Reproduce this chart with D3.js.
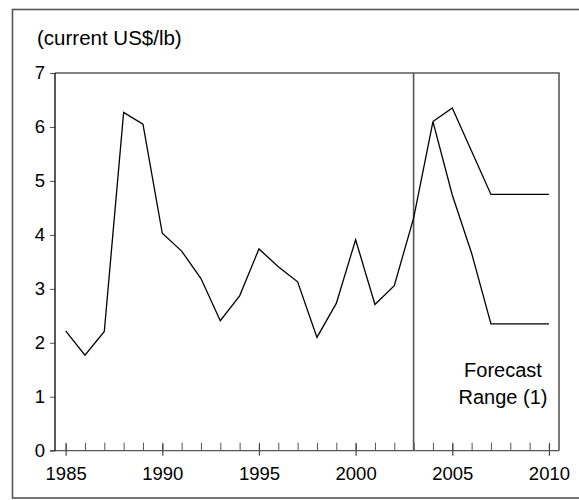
<!DOCTYPE html>
<html>
<head>
<meta charset="utf-8">
<script src="https://cdn.jsdelivr.net/npm/d3@7"></script>
<style>
  html, body { margin: 0; padding: 0; background: #fff; }
  svg { display: block; }
  text { font-family: "Liberation Sans", Arial, sans-serif; fill: #000; }
</style>
</head>
<body>
<svg id="chart" width="579" height="500"></svg>
<script>
// ---- data ----
const histYears = [1985,1986,1987,1988,1989,1990,1991,1992,1993,1994,1995,1996,1997,1998,1999,2000,2001,2002,2003,2004];
const histValues = [2.22,1.77,2.21,6.27,6.05,4.03,3.70,3.19,2.41,2.87,3.74,3.41,3.13,2.10,2.73,3.91,2.71,3.06,4.31,6.10];
const forecastYears = [2004,2005,2006,2007,2008,2009,2010];
const highValues = [6.10,6.35,5.55,4.75,4.75,4.75,4.75];
const lowValues  = [6.10,4.74,3.66,2.35,2.35,2.35,2.35];
const yTicks = [0,1,2,3,4,5,6,7];
const xMajorTicks = [1985,1990,1995,2000,2005,2010];
const xMinorTicks = d3.range(1985, 2011);
const forecastStart = 2003;
const titleText = "(current US$/lb)";
const noteLines = ["Forecast", "Range (1)"];

// ---- layout ----
const svg = d3.select("#chart");
const plot = {left: 55, right: 559, top: 73, bottom: 450.7};

const x = d3.scaleLinear().domain([1984.45, 2010.52]).range([plot.left, plot.right]);
const y = d3.scaleLinear().domain([0, 7]).range([plot.bottom, plot.top]);

// outer frame
svg.append("rect")
  .attr("x", 12.5).attr("y", 9.5).attr("width", 600).attr("height", 488.5)
  .attr("fill", "none").attr("stroke", "#555").attr("stroke-width", 1.6);

// plot top & right border
svg.append("path")
  .attr("d", `M${plot.left},${plot.top}H${plot.right}V${plot.bottom}`)
  .attr("fill", "none").attr("stroke", "#5a5a5a").attr("stroke-width", 1.6);

// bottom axis
const xAxisMinor = d3.axisBottom(x).tickValues(xMinorTicks).tickSize(-8).tickFormat("");
svg.append("g").attr("transform", `translate(0,${plot.bottom})`).call(xAxisMinor)
  .call(g => g.select(".domain").remove())
  .call(g => g.selectAll("line").attr("stroke", "#555").attr("stroke-width", 1));
const xAxisMajor = d3.axisBottom(x).tickValues(xMajorTicks).tickSize(5).tickPadding(11).tickFormat(d3.format("d"));
svg.append("g").attr("transform", `translate(0,${plot.bottom})`).call(xAxisMajor)
  .call(g => g.select(".domain").remove())
  .call(g => g.selectAll("line").attr("stroke", "#444").attr("stroke-width", 1.2).attr("y1", -7))
  .call(g => g.selectAll("text").attr("font-size", 18.5).attr("fill", "#000"));
svg.append("line")
  .attr("x1", 50).attr("x2", plot.right).attr("y1", plot.bottom).attr("y2", plot.bottom)
  .attr("stroke", "#555").attr("stroke-width", 1.3);

// left axis
const yAxis = d3.axisLeft(y).tickValues(yTicks).tickSize(5).tickPadding(5).tickFormat(d3.format("d"));
svg.append("g").attr("transform", `translate(${plot.left},0)`).call(yAxis)
  .call(g => g.select(".domain").remove())
  .call(g => g.selectAll("line").attr("stroke", "#555"))
  .call(g => g.selectAll("text").attr("font-size", 18.5).attr("fill", "#000"));
svg.append("line")
  .attr("x1", plot.left).attr("x2", plot.left).attr("y1", plot.top).attr("y2", plot.bottom)
  .attr("stroke", "#000").attr("stroke-width", 1.3);

// forecast divider
svg.append("line")
  .attr("x1", x(forecastStart)).attr("x2", x(forecastStart))
  .attr("y1", plot.top).attr("y2", plot.bottom)
  .attr("stroke", "#555").attr("stroke-width", 1.6);

// series
const line = d3.line().x(d => x(d[0])).y(d => y(d[1]));
const series = [
  d3.zip(histYears, histValues),
  d3.zip(forecastYears, highValues),
  d3.zip(forecastYears, lowValues)
];
svg.selectAll("path.series").data(series).join("path")
  .attr("class", "series")
  .attr("d", line)
  .attr("fill", "none").attr("stroke", "#000").attr("stroke-width", 1.3)
  .attr("stroke-linejoin", "miter");

// title
svg.append("text").attr("x", 37).attr("y", 45).attr("font-size", 20.5).text(titleText);

// note
svg.append("text").attr("x", 503).attr("y", 377).attr("font-size", 20).attr("text-anchor", "middle")
  .selectAll("tspan").data(noteLines).join("tspan")
  .attr("x", 503).attr("dy", (d, i) => i === 0 ? 0 : 27).text(d => d);
</script>
</body>
</html>
